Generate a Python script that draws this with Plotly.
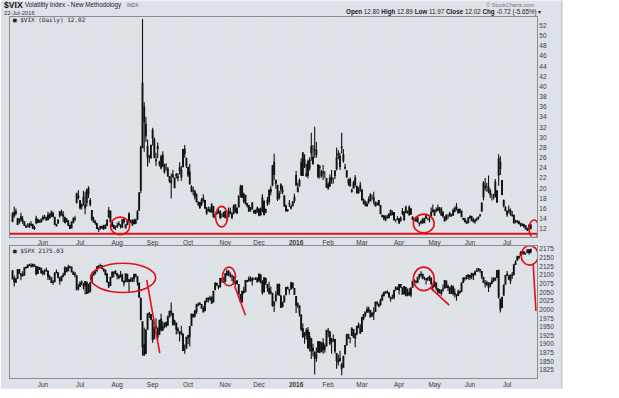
import pandas as pd
import plotly.graph_objects as go

# ---------------- data ----------------
holidays = ["2015-05-25", "2015-07-03", "2015-09-07", "2015-11-26", "2015-12-25",
            "2016-01-01", "2016-01-18", "2016-02-15", "2016-03-25", "2016-05-30", "2016-07-04"]
dates = [d for d in pd.bdate_range("2015-05-05", "2016-07-22") if d.strftime("%Y-%m-%d") not in holidays]

month_labels = ["Jun", "Jul", "Aug", "Sep", "Oct", "Nov", "Dec", "<b>2016</b>",
                "Feb", "Mar", "Apr", "May", "Jun", "Jul"]

vix_open = [
    13.5,14.6,15.4,14.0,13.4,14.4,13.5,13.4,12.5,12.7,12.5,12.8,12.8,12.2,13.2,13.9,13.5,13.4,
    14.3,14.2,14.3,13.8,14.9,14.4,15.0,14.3,12.8,13.1,14.6,15.2,14.8,14.3,13.4,13.6,12.7,12.2,13.2,13.9,17.2,18.4,
    17.6,16.4,18.2,16.7,17.2,18.9,17.6,15.6,13.8,13.4,13.0,11.9,12.5,12.5,12.5,12.1,12.7,14.4,15.5,13.3,12.7,12.1,
    12.5,12.9,12.6,12.4,13.8,12.8,12.9,14.9,13.4,13.6,13.6,13.1,14.0,15.7,19.6,28.0,33.1,32.6,28.2,26.2,26.0,
    29.9,29.6,25.4,28.2,25.1,24.0,26.5,24.6,24.3,23.8,22.3,21.5,22.6,22.0,22.7,22.2,24.0,22.2,24.3,27.7,25.9,
    24.1,23.2,20.3,19.5,19.3,18.7,16.9,17.2,16.9,17.6,17.6,15.9,15.7,15.7,15.3,16.4,14.3,15.0,15.3,15.3,14.6,14.5,
    15.4,14.5,14.4,15.4,14.9,15.0,16.7,15.1,16.3,18.8,20.5,17.5,18.6,16.6,16.6,15.6,17.1,15.5,15.7,15.3,
    15.9,14.8,15.6,17.5,15.3,17.1,17.4,19.8,20.7,25.1,21.5,20.6,18.2,19.8,19.6,18.5,16.5,15.6,17.0,16.3,16.5,17.6,
    22.5,20.1,21.5,22.6,22.5,25.6,22.8,22.5,25.5,28.2,24.8,27.5,27.4,24.6,24.0,23.3,23.0,22.4,21.9,
    20.8,20.4,22.1,21.8,22.5,23.9,26.8,24.3,28.0,26.6,24.0,23.4,21.1,21.7,19.6,20.0,22.0,20.4,19.1,20.0,
    19.7,17.7,17.3,16.6,17.8,17.5,18.3,17.5,17.3,16.8,17.6,16.6,14.7,14.6,14.5,14.3,14.2,15.6,14.9,15.2,13.6,13.8,
    14.0,13.7,15.1,15.3,15.2,15.5,14.8,15.9,14.3,14.0,13.8,14.2,13.1,13.4,13.2,14.0,14.6,14.0,13.9,14.6,15.4,
    15.6,15.7,15.7,15.8,15.9,15.1,14.4,13.8,14.4,14.5,14.8,14.7,15.5,16.1,15.8,15.3,15.5,14.0,13.9,13.5,13.2,
    14.4,14.4,13.7,13.5,13.9,14.3,14.7,15.5,18.3,20.1,20.1,20.3,18.8,18.4,18.5,18.3,19.5,22.6,25.1,21.5,17.6,16.2,
    15.4,15.7,15.5,14.7,14.7,13.6,13.4,13.4,13.0,12.9,12.8,12.6,12.1,12.0,12.80,
]
vix_high = [
    15.3,16.4,16.0,14.2,14.1,15.2,14.5,13.5,12.8,13.1,13.2,13.5,13.0,12.6,14.6,14.0,13.8,14.1,
    14.7,14.8,14.4,15.4,15.1,15.6,15.4,14.4,13.0,13.9,15.5,15.8,15.5,14.4,14.1,13.7,12.8,13.5,14.3,14.6,19.1,19.6,
    17.7,17.0,19.5,19.3,19.9,20.4,18.1,15.7,14.4,13.7,13.2,12.3,12.6,12.6,12.8,12.9,13.9,16.3,15.6,13.4,12.8,12.6,
    13.2,13.5,12.9,13.9,14.3,12.9,13.8,15.3,13.8,13.9,14.0,14.0,15.7,19.2,28.4,53.3,36.9,34.0,29.6,26.6,28.6,
    31.9,30.0,27.0,29.0,25.4,26.6,27.3,24.8,24.9,24.2,22.3,22.9,23.6,22.0,23.0,23.0,25.1,24.4,27.7,28.5,26.0,
    24.2,24.8,20.6,20.3,19.7,19.0,17.5,17.3,18.1,18.8,17.6,16.3,16.4,16.3,17.1,16.5,15.0,15.6,15.9,15.7,15.1,15.4,
    15.6,14.7,16.2,16.2,15.3,16.8,16.9,16.2,18.6,20.7,20.5,19.1,18.6,17.1,16.6,16.3,17.3,15.7,15.8,16.4,
    16.0,16.2,18.8,17.6,16.0,18.3,19.8,20.5,24.6,26.8,21.7,20.7,19.5,21.0,20.5,18.6,16.8,15.9,17.7,16.7,17.5,18.9,
    23.4,21.1,21.9,25.9,27.1,26.7,24.8,25.6,26.1,30.9,28.5,32.1,29.1,24.7,24.6,23.6,24.6,23.4,21.9,
    21.2,22.7,23.6,22.1,23.6,28.0,27.5,27.0,30.9,27.7,24.8,23.6,21.9,22.1,19.9,21.5,22.6,20.4,20.2,21.3,
    19.8,18.0,17.6,17.4,18.4,19.0,18.7,19.3,17.4,17.3,17.6,16.7,14.8,14.6,14.7,14.8,15.1,15.8,15.6,15.3,13.9,14.5,
    14.1,14.5,16.1,15.5,16.6,15.6,16.6,16.1,14.5,14.2,14.3,14.3,13.3,13.7,14.1,14.2,15.0,14.2,14.6,16.2,16.8,
    15.8,16.2,16.8,16.3,16.3,15.5,14.4,14.9,14.9,15.4,15.0,16.0,16.4,17.1,16.0,16.0,15.5,14.2,14.2,13.6,14.3,
    14.7,14.6,14.2,13.9,14.2,14.5,15.0,17.3,21.4,22.0,21.1,22.5,19.9,18.9,18.9,21.8,19.6,26.7,26.3,21.6,17.8,16.5,
    15.6,16.6,16.0,15.5,14.8,13.8,13.7,13.6,13.2,13.1,13.0,12.6,12.2,12.9,12.89,
]
vix_low = [
    13.3,14.2,14.7,12.8,13.0,13.4,13.0,12.6,12.2,12.3,12.2,12.5,12.0,11.8,12.9,13.1,13.2,13.2,
    13.6,13.9,13.6,13.7,14.0,14.3,14.3,12.8,12.5,13.0,14.2,14.6,13.4,13.1,13.3,12.6,12.1,12.1,13.1,13.5,17.0,17.8,
    15.8,15.8,16.6,14.9,16.4,18.1,16.4,13.6,13.2,12.8,12.0,11.4,11.8,12.0,11.8,12.0,12.6,14.1,13.4,12.4,12.0,11.8,
    12.2,12.6,12.1,12.2,13.0,12.1,12.7,13.3,13.1,12.6,12.9,12.9,13.7,15.6,19.0,28.0,27.2,29.1,24.3,25.0,25.8,
    28.4,25.9,24.4,25.9,24.3,23.7,24.2,22.9,23.5,22.2,21.1,18.0,21.9,20.1,21.9,21.4,22.7,21.5,24.1,26.0,24.0,
    22.2,20.7,19.2,18.6,17.8,17.2,16.5,15.9,16.5,17.2,15.9,14.8,15.4,15.2,15.2,14.2,14.0,14.8,15.0,13.9,14.2,14.3,
    14.1,13.7,14.4,14.9,13.9,15.0,15.2,15.1,16.3,18.2,18.1,17.1,16.8,16.2,15.4,15.4,15.9,15.0,14.9,15.3,
    14.5,14.6,15.3,14.7,15.1,16.5,16.8,18.6,20.4,21.6,19.9,17.5,17.8,18.9,18.8,16.3,15.4,15.4,16.3,15.8,16.4,17.1,
    20.4,19.2,20.3,22.4,22.4,24.0,22.2,21.9,23.5,25.4,24.7,26.0,26.0,21.9,21.9,22.1,21.6,22.0,20.1,
    19.7,20.3,20.9,20.9,21.8,23.5,25.7,23.6,26.9,25.0,23.7,22.0,20.5,20.3,19.1,19.9,20.3,18.9,18.9,19.3,
    17.6,16.8,16.4,16.3,16.9,17.4,17.8,16.8,16.4,16.6,16.5,14.9,14.3,13.7,13.5,14.0,14.1,14.6,14.7,13.6,13.3,13.7,
    13.0,13.4,14.7,13.6,15.1,15.0,14.6,14.8,13.7,13.5,13.4,13.2,12.5,12.9,13.0,13.1,14.0,13.7,13.3,14.4,15.3,
    14.6,15.3,15.5,15.1,14.6,14.2,13.4,13.7,14.0,14.4,14.4,14.6,15.3,15.6,15.0,15.1,14.3,13.7,13.3,13.0,13.2,
    14.0,13.6,13.2,13.0,13.5,13.8,14.4,15.4,17.6,19.5,19.3,19.0,18.1,17.6,17.8,18.2,17.1,20.5,22.6,18.6,16.2,15.5,
    14.4,15.1,14.6,14.4,13.0,13.1,13.1,12.9,12.4,12.6,12.4,11.9,11.6,11.6,11.97,
]
vix_close = [
    14.9,15.2,15.1,12.9,13.9,13.9,13.8,12.7,12.4,12.7,12.9,12.9,12.1,12.1,14.1,13.3,13.3,13.8,
    14.0,14.2,13.7,14.7,14.2,15.3,14.5,12.9,12.6,13.8,15.4,14.8,14.5,13.2,14.0,12.7,12.1,13.3,14.0,14.0,18.9,18.2,
    16.1,16.8,17.0,16.1,19.7,20.0,16.8,13.9,13.4,13.2,12.1,12.0,12.3,12.2,12.1,12.6,13.7,15.6,13.4,12.5,12.1,12.1,
    12.6,13.0,12.5,13.8,13.4,12.2,13.7,13.6,13.5,12.8,13.0,13.8,15.3,19.1,28.0,40.7,36.0,30.3,26.1,26.1,28.4,
    31.4,26.1,25.6,27.8,24.9,26.2,24.4,23.2,24.3,22.5,21.4,21.1,22.3,20.1,22.4,22.1,23.5,23.6,27.6,26.8,24.5,
    22.6,20.9,19.5,19.4,18.4,17.4,17.1,16.2,17.7,18.0,16.1,15.1,15.8,15.5,16.7,14.5,14.5,15.3,15.4,14.3,14.6,15.1,
    14.2,14.5,15.5,15.1,14.3,16.5,15.3,16.1,18.4,20.1,18.2,18.8,16.9,17.0,15.5,15.6,15.9,15.2,15.1,16.1,
    14.7,15.9,18.1,14.8,15.8,17.6,19.6,19.3,24.4,22.7,21.0,17.9,18.9,20.7,19.3,16.6,15.6,15.7,16.9,16.1,17.3,18.2,
    20.7,19.3,20.6,25.0,27.0,24.3,22.5,25.2,24.0,27.0,26.1,27.6,26.7,22.3,24.2,22.5,23.1,22.4,20.2,
    20.0,22.0,21.7,21.8,23.4,26.0,26.5,26.3,28.1,25.4,24.1,22.3,21.6,20.5,19.4,21.0,20.7,19.1,19.8,20.6,
    17.7,17.1,16.7,16.9,17.4,18.7,18.3,18.1,16.5,16.9,16.8,15.0,14.4,14.0,13.8,14.2,14.9,14.7,15.2,13.8,13.6,14.0,
    13.1,14.1,15.4,13.8,16.2,15.4,16.3,14.9,13.8,13.7,13.6,13.4,13.2,13.3,14.0,13.2,14.1,14.0,13.8,15.2,15.7,
    14.7,15.6,16.1,15.9,14.7,14.6,13.6,14.7,14.4,15.0,14.7,15.6,16.0,16.3,15.2,15.8,14.4,13.9,13.4,13.1,14.2,
    14.2,13.6,13.5,13.7,14.1,14.1,14.6,17.0,21.0,20.5,20.1,19.4,19.4,18.4,18.5,21.2,17.3,25.8,23.9,18.8,16.6,15.6,
    14.8,15.6,15.0,14.8,13.2,13.5,13.6,13.0,12.8,12.7,12.4,12.0,11.8,12.7,12.02,
]

spx_open = [
    2112,2089,2080,2090,2116,2102,2100,2100,2122,2122,2130,2128,2126,2130,2125,2105,2122,2120,
    2105,2110,2111,2112,2095,2092,2079,2081,2106,2107,2092,2084,2097,2101,2121,2113,2123,2123,2109,2103,2098,2062,
    2067,2078,2073,2069,2080,2049,2052,2080,2100,2109,2112,2123,2127,2127,2116,2115,2102,2079,2070,2094,2106,2111,
    2104,2097,2095,2100,2083,2081,2102,2082,2086,2083,2090,2101,2095,2077,2033,1965,1898,1873,1943,1987,1986,
    1970,1916,1950,1947,1928,1972,1941,1952,1963,1955,1979,1996,1989,1961,1961,1943,1933,1935,1929,1883,1888,
    1919,1922,1954,1986,1982,1994,2013,2015,2015,2003,1997,2025,2031,2033,2033,2022,2058,2076,2068,2066,2089,2090,
    2081,2102,2110,2101,2098,2096,2078,2083,2073,2044,2022,2054,2052,2084,2083,2089,2084,2089,2089,2091,
    2083,2101,2080,2051,2090,2073,2061,2048,2047,2013,2025,2047,2073,2040,2010,2023,2043,2064,2058,2060,2077,2061,
    2038,2013,2011,1985,1945,1927,1928,1940,1892,1916,1888,1877,1860,1877,1907,1878,1903,1886,1895,
    1936,1936,1907,1911,1913,1873,1848,1858,1840,1833,1872,1898,1928,1917,1925,1942,1917,1930,1955,1947,
    1937,1976,1985,1994,1997,1997,1981,1991,1995,2018,2011,2015,2027,2041,2049,2048,2049,2032,2037,2036,2057,2061,
    2057,2073,2063,2046,2064,2046,2050,2043,2065,2082,2083,2079,2096,2101,2102,2092,2090,2089,2092,2091,2071,
    2067,2077,2060,2053,2047,2058,2062,2083,2067,2062,2047,2066,2045,2044,2041,2052,2053,2079,2091,2091,2100,
    2094,2097,2104,2101,2111,2112,2116,2110,2092,2076,2077,2066,2077,2076,2085,2090,2093,2114,2031,2006,2042,2074,
    2099,2096,2084,2100,2101,2131,2143,2154,2157,2165,2162,2164,2166,2173,2167,
]
spx_high = [
    2115,2099,2093,2118,2117,2106,2111,2121,2124,2131,2133,2134,2132,2130,2126,2126,2123,2121,
    2113,2117,2121,2112,2100,2093,2086,2108,2116,2107,2094,2098,2107,2126,2121,2130,2127,2124,2111,2109,2098,2074,
    2082,2085,2078,2083,2080,2075,2081,2101,2111,2115,2124,2127,2133,2129,2120,2116,2106,2079,2095,2110,2111,2114,
    2105,2102,2112,2104,2083,2105,2102,2089,2093,2093,2103,2104,2096,2077,2034,1965,1948,1943,1989,1993,1987,
    1970,1949,1975,1947,1971,1988,1966,1961,1963,1983,1997,2021,1989,1971,1961,1949,1938,1953,1930,1899,1921,
    1927,1951,1989,1988,1999,2017,2021,2022,2012,2010,2024,2034,2035,2040,2039,2055,2080,2076,2071,2090,2093,2094,
    2106,2116,2114,2108,2101,2096,2084,2086,2073,2044,2053,2066,2084,2086,2097,2096,2094,2093,2094,2094,
    2104,2101,2085,2094,2093,2073,2081,2067,2047,2023,2054,2076,2076,2040,2023,2042,2064,2067,2058,2081,2078,2062,
    2038,2021,2012,1985,1960,1935,1947,1950,1935,1916,1901,1877,1890,1909,1907,1906,1917,1902,1940,
    1947,1936,1918,1928,1913,1873,1869,1881,1846,1865,1896,1930,1930,1919,1949,1942,1932,1952,1963,1958,
    1978,1987,1993,2009,2008,1997,1993,2006,2022,2025,2016,2032,2046,2052,2054,2056,2049,2037,2044,2056,2068,2067,
    2074,2074,2063,2068,2064,2061,2062,2065,2083,2088,2083,2095,2104,2111,2104,2096,2090,2094,2099,2094,2074,
    2083,2077,2060,2060,2058,2072,2084,2084,2073,2066,2072,2070,2061,2044,2058,2056,2079,2094,2094,2099,2103,
    2100,2106,2104,2113,2120,2120,2117,2110,2095,2086,2084,2079,2077,2094,2094,2094,2113,2114,2031,2036,2073,2099,
    2112,2101,2100,2109,2131,2143,2156,2156,2169,2170,2170,2165,2175,2174,2176,
]
spx_low = [
    2088,2067,2077,2090,2104,2085,2096,2100,2118,2121,2127,2122,2123,2125,2099,2105,2115,2104,
    2099,2100,2110,2086,2086,2079,2072,2081,2106,2091,2072,2083,2094,2101,2109,2113,2120,2108,2102,2094,2057,2056,
    2067,2071,2058,2044,2045,2049,2052,2080,2099,2102,2112,2119,2125,2119,2110,2099,2078,2063,2070,2092,2094,2102,
    2088,2088,2095,2080,2068,2081,2079,2052,2080,2080,2080,2094,2070,2036,1971,1867,1867,1872,1943,1976,1969,
    1904,1916,1944,1912,1928,1937,1938,1946,1948,1953,1978,1982,1953,1954,1928,1930,1908,1926,1880,1872,1888,
    1900,1893,1954,1976,1977,1988,2009,2014,2003,1991,1997,2021,2021,2026,2017,2022,2058,2070,2059,2064,2078,2079,
    2081,2097,2097,2092,2083,2071,2070,2075,2046,2022,2020,2046,2052,2079,2083,2081,2070,2086,2086,2080,
    2083,2076,2043,2051,2071,2052,2044,2044,2008,1993,2025,2042,2041,2005,2006,2021,2043,2059,2044,2060,2062,2043,
    1990,2005,1980,1938,1918,1901,1913,1886,1879,1857,1865,1812,1849,1877,1874,1878,1872,1875,1894,
    1921,1897,1872,1906,1873,1829,1838,1851,1810,1833,1872,1898,1916,1903,1925,1918,1891,1926,1946,1932,
    1937,1969,1979,1990,1991,1979,1980,1970,1995,2012,2006,2011,2027,2038,2046,2046,2035,2023,2031,2029,2057,2057,
    2044,2063,2043,2044,2038,2039,2041,2036,2065,2079,2075,2079,2088,2094,2088,2085,2073,2083,2083,2071,2053,
    2066,2055,2045,2047,2040,2052,2062,2064,2054,2046,2047,2041,2035,2026,2041,2047,2053,2079,2084,2087,2087,
    2086,2089,2086,2101,2110,2112,2107,2089,2079,2064,2070,2051,2064,2076,2080,2085,2092,2032,1992,2006,2042,2074,
    2098,2086,2074,2089,2101,2131,2143,2146,2157,2160,2160,2159,2164,2160,2163,
]
spx_close = [
    2089,2080,2088,2116,2105,2099,2098,2121,2123,2129,2128,2126,2131,2126,2104,2123,2121,2107,
    2112,2110,2114,2096,2093,2079,2080,2105,2109,2094,2084,2096,2100,2121,2110,2123,2124,2109,2102,2101,2058,2063,
    2077,2077,2069,2081,2047,2051,2077,2100,2109,2107,2124,2127,2128,2119,2114,2102,2080,2068,2093,2109,2109,2104,
    2098,2093,2100,2084,2078,2104,2084,2086,2083,2092,2102,2097,2080,2036,1971,1893,1868,1941,1988,1989,1972,
    1914,1949,1951,1921,1969,1942,1952,1961,1953,1978,1995,1990,1958,1967,1943,1939,1932,1931,1882,1884,1920,
    1924,1951,1987,1980,1996,2013,2015,2017,2004,1994,2024,2033,2034,2031,2019,2053,2075,2071,2066,2090,2089,2079,
    2104,2110,2102,2100,2099,2079,2082,2075,2046,2023,2053,2050,2084,2081,2089,2087,2089,2089,2090,2080,
    2103,2080,2050,2092,2077,2064,2048,2052,2012,2022,2043,2073,2042,2006,2021,2039,2064,2061,2057,2078,2063,2044,
    2013,2017,1990,1943,1922,1924,1939,1890,1922,1880,1881,1859,1869,1907,1877,1904,1883,1893,1940,
    1939,1903,1913,1915,1880,1853,1852,1852,1829,1865,1896,1927,1918,1918,1946,1921,1930,1952,1948,1932,
    1978,1986,1993,2000,2002,1979,1989,1990,2022,2020,2016,2027,2041,2050,2052,2050,2037,2036,2037,2055,2064,2060,
    2073,2066,2045,2067,2042,2048,2042,2062,2082,2083,2081,2094,2101,2102,2091,2092,2088,2092,2095,2076,2065,
    2081,2063,2051,2051,2057,2059,2084,2064,2064,2047,2067,2047,2048,2040,2052,2048,2076,2091,2090,2099,2097,
    2099,2105,2099,2109,2112,2119,2115,2096,2079,2075,2072,2078,2071,2083,2089,2085,2113,2037,2001,2036,2071,2099,
    2103,2089,2100,2098,2130,2137,2152,2152,2164,2162,2167,2164,2173,2165,2175.03,
]

n = len(dates)
for name, arr in [("vix_open", vix_open), ("vix_high", vix_high), ("vix_low", vix_low), ("vix_close", vix_close),
                  ("spx_open", spx_open), ("spx_high", spx_high), ("spx_low", spx_low), ("spx_close", spx_close)]:
    if len(arr) != n:
        raise SystemExit(f"{name}: {len(arr)} values for {n} dates")

# first trading day of each month (for month ticks / grid)
month_starts = []
seen = set()
for d in dates:
    key = (d.year, d.month)
    if key not in seen:
        seen.add(key)
        month_starts.append(d)
month_ticks = month_starts[1:]  # from June 2015 on

# ---------------- layout geometry (pixels) ----------------
W, H = 619, 398
L, R, T, B = 9, 82, 17, 11
PW, PH = W - L - R, H - T - B


def px(x):
    return (x - L) / PW


def py(y):
    return (H - B - y) / PH


FRAME = "#dde1e8"
RED = "#e3101b"
FONT = "Liberation Sans"

fig = go.Figure()

candle_style = dict(
    increasing=dict(line=dict(color="#111111", width=1.1), fillcolor="#ffffff"),
    decreasing=dict(line=dict(color="#111111", width=1.1), fillcolor="#111111"),
    whiskerwidth=0, hoverinfo="skip", showlegend=False,
)
fig.add_trace(go.Candlestick(x=dates, open=vix_open, high=vix_high, low=vix_low, close=vix_close,
                             xaxis="x", yaxis="y", **candle_style))
fig.add_trace(go.Candlestick(x=dates, open=spx_open, high=spx_high, low=spx_low, close=spx_close,
                             xaxis="x2", yaxis="y2", **candle_style))

xcommon = dict(
    type="date",
    range=["2015-05-01 12:00", "2016-07-27 17:00"],
    rangebreaks=[dict(bounds=["sat", "mon"]), dict(values=holidays)],
    tickmode="array", tickvals=month_ticks, ticktext=month_labels,
    showgrid=True, gridcolor="#e4e4e4", gridwidth=1,
    showline=True, linecolor="#8c8c8c", linewidth=1, mirror=True,
    ticks="", tickfont=dict(family=FONT, size=6.5, color="#3a3a3a"),
    rangeslider=dict(visible=False), zeroline=False, fixedrange=True,
)
ycommon = dict(
    side="right", showgrid=True, gridcolor="#e4e4e4", gridwidth=1,
    showline=True, linecolor="#8c8c8c", linewidth=1, mirror=True,
    ticks="", tickfont=dict(family=FONT, size=6.5, color="#3a3a3a"),
    zeroline=False, fixedrange=True,
)

fig.update_layout(
    width=W, height=H,
    margin=dict(l=L, r=R, t=T, b=B, pad=0),
    paper_bgcolor="white", plot_bgcolor="white",
    showlegend=False,
    xaxis=dict(**xcommon, anchor="y", domain=[0, 1]),
    xaxis2=dict(**xcommon, anchor="y2", domain=[0, 1], matches="x"),
    yaxis=dict(**ycommon, anchor="x", domain=[py(242), 1], range=[10.5, 53.7], tick0=0, dtick=2),
    yaxis2=dict(**ycommon, anchor="x2", domain=[0, py(252)], range=[1802, 2183.5], tick0=0, dtick=25),
)

shapes = [
    # grey frame behind the panels
    dict(type="rect", xref="paper", yref="paper", x0=px(0), x1=px(562), y0=py(398), y1=py(0),
         fillcolor=FRAME, line=dict(width=0), layer="below"),
    dict(type="line", xref="paper", yref="paper", x0=px(562), x1=px(562), y0=py(398), y1=py(0),
         line=dict(color="#b4b9c4", width=1), layer="below"),
    # red support line on VIX
    dict(type="line", xref="paper", yref="y", x0=0, x1=1, y0=11.05, y1=11.05,
         line=dict(color=RED, width=2)),
]
red = dict(color=RED, width=1.6)
# hand-drawn circles on VIX panel
for x0, x1, y0, y1 in [("2015-07-28", "2015-08-12 10:00", 10.84, 14.32),
                       ("2015-10-23 07:00", "2015-11-03 10:00", 12.39, 16.44),
                       ("2016-04-13 10:00", "2016-04-29 19:00", 11.23, 14.9),
                       ("2016-07-21", "2016-07-28 21:00", 10.26, 13.74)]:
    shapes.append(dict(type="circle", xref="x", yref="y", x0=x0, x1=x1, y0=y0, y1=y1, line=red))
# hand-drawn circles on SPX panel
for x0, x1, y0, y1 in [("2015-07-10 05:00", "2015-09-02 19:00", 2049.5, 2134.5),
                       ("2015-10-29 10:00", "2015-11-10 02:00", 2069, 2123),
                       ("2016-04-13 10:00", "2016-04-29 19:00", 2055, 2123),
                       ("2016-07-14 07:00", "2016-07-28 10:00", 2128.8, 2185.5)]:
    shapes.append(dict(type="circle", xref="x2", yref="y2", x0=x0, x1=x1, y0=y0, y1=y1, line=red))
# hand-drawn strokes on SPX panel
for x0, y0, x1, y1 in [("2015-08-26 12:00", 2086, "2015-09-08 05:00", 1874),
                       ("2015-11-09 12:00", 2069, "2015-11-18", 1984),
                       ("2016-04-27 10:00", 2064, "2016-05-12 17:00", 2013),
                       ("2016-07-25 10:00", 2134, "2016-07-27 02:00", 1996)]:
    shapes.append(dict(type="line", xref="x2", yref="y2", x0=x0, x1=x1, y0=y0, y1=y1, line=red))
fig.update_layout(shapes=shapes)


def note(text, x, y, size, color="#222", anchor="left", family=FONT):
    fig.add_annotation(text=text, xref="paper", yref="paper", x=px(x), y=py(y),
                       xanchor=anchor, yanchor="middle", showarrow=False,
                       font=dict(family=family, size=size, color=color))


note("<b>$VIX</b>", 1, 4.3, 8.6, "#111")
note("Volatility Index - New Methodology", 22, 4.8, 6.3, "#222")
note("INDX", 124, 5.2, 4.8, "#555")
note("22-Jul-2016", 1, 12.8, 5.8, "#333")
note("© StockCharts.com", 537, 4.5, 5.6, "#777", anchor="right")
note("<b>Open</b> 12.80 <b>High</b> 12.89 <b>Low</b> 11.97 <b>Close</b> 12.02 <b>Chg</b> -0.72 (-5.65%) ▾",
     543, 12.3, 6.3, "#222", anchor="right")
note("■ $VIX (Daily) 12.02", 10, 20.5, 6, "#222", family="DejaVu Sans Mono")
note("■ $SPX 2175.03", 10, 256, 6, "#222", family="DejaVu Sans Mono")

fig.write_html("out.html")
